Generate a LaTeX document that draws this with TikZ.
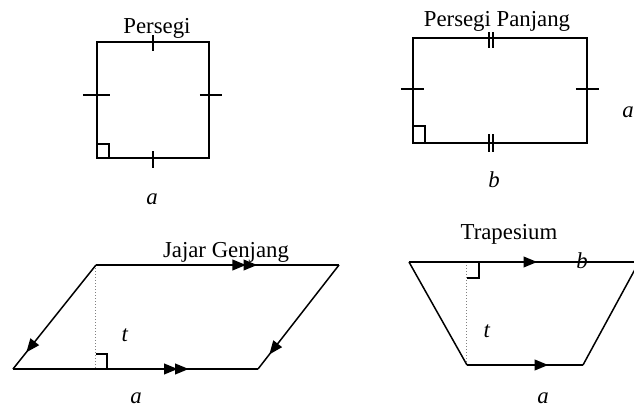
\documentclass[tikz,border=0pt]{standalone}
\usepackage{fontspec}
\setmainfont{Liberation Serif}
\usetikzlibrary{calc,arrows.meta,decorations.markings}
\tikzset{
  edge/.style={line width=0.75pt},
  tickmark/.style={line width=0.75pt},
  rightangle/.style={line width=0.75pt},
  heightline/.style={densely dotted, line width=0.5pt, gray},
  lbl/.style={inner sep=0pt, anchor=base, font=\fontsize{11.4pt}{13pt}\selectfont},
  tri/.tip={Triangle[length=6.8pt,width=5.4pt]},
  mid1/.style={postaction={decorate},decoration={markings,mark=at position #1 with {\arrow{tri}}}},
  mid2/.style 2 args={postaction={decorate},decoration={markings,
     mark=at position #1 with {\arrow{tri}},mark=at position #2 with {\arrow{tri}}}}
}
\begin{document}
\begin{tikzpicture}[x=0.5pt,y=-0.5pt]
\path[use as bounding box, clip] (0,0) rectangle (634,413);

% ---------- Persegi ----------
\coordinate (sTL) at (97,42);
\coordinate (sTR) at (209,42);
\coordinate (sBR) at (209,158);
\coordinate (sBL) at (97,158);
\draw[edge] (sTL) -- (sTR) -- (sBR) -- (sBL) -- cycle;
\draw[tickmark] ($(sTL)!0.5!(sTR)$) ++(0,-7) -- ++(0,16);
\draw[tickmark] ($(sBL)!0.5!(sBR)$) ++(0,-7) -- ++(0,17);
\draw[tickmark] ($(sTL)!0.5!(sBL)$) ++(-14,-5) -- ++(27,0);
\draw[tickmark] ($(sTR)!0.5!(sBR)$) ++(-9,-5) -- ++(22,0);
\draw[rightangle] (sBL) ++(0,-14) -- ++(12,0) -- ++(0,14);
\node[lbl] (tSq) at (157,33) {Persegi};
\node[lbl] (aSq) at (152,204) {\textit{a}};

% ---------- Persegi Panjang ----------
\coordinate (rTL) at (413,38);
\coordinate (rTR) at (587,38);
\coordinate (rBR) at (587,143);
\coordinate (rBL) at (413,143);
\draw[edge] (rTL) -- (rTR) -- (rBR) -- (rBL) -- cycle;
\draw[tickmark] ($(rTL)!0.5!(rBL)$) ++(-12,-1.5) -- ++(23,0);
\draw[tickmark] ($(rTR)!0.5!(rBR)$) ++(-11,-1.5) -- ++(23,0);
\draw[tickmark] (489,32) -- (489,48) (493,32) -- (493,48);
\draw[tickmark] (489,134) -- (489,152) (493,134) -- (493,152);
\draw[rightangle] (rBL) ++(0,-17) -- ++(12,0) -- ++(0,17);
\node[lbl] (tRe) at (497,26) {Persegi Panjang};
\node[lbl] (aRe) at (628,117) {\textit{a}};
\node[lbl] (bRe) at (494,187) {\textit{b}};

% ---------- Jajar Genjang ----------
\coordinate (pTL) at (96,265);
\coordinate (pTR) at (339,265);
\coordinate (pBR) at (258,369);
\coordinate (pBL) at (13,369);
\coordinate (pF) at (96,369);
\draw[heightline] (pTL) -- (pF);
\draw[edge, mid2={0.617}{0.663}] (pTL) -- (pTR);
\draw[edge, mid2={0.672}{0.717}] (pBL) -- (pBR);
\draw[edge, mid1={0.84}] (pTL) -- (pBL);
\draw[edge, mid1={0.86}] (pTR) -- (pBR);
\draw[rightangle] (pF) ++(0,-15) -- ++(11,0) -- ++(0,15);
\node[lbl] (tPa) at (226,257) {Jajar Genjang};
\node[lbl] (hPa) at (125,341) {\textit{t}};
\node[lbl] (aPa) at (136,403) {\textit{a}};

% ---------- Trapesium ----------
\coordinate (zTL) at (409,262);
\coordinate (zTR) at (639,262);
\coordinate (zBR) at (583,365);
\coordinate (zBL) at (467,365);
\coordinate (zF) at (467,262);
\draw[heightline] (zF) -- (zBL);
\draw[edge, mid1={0.557}] (zTL) -- (zTR);
\draw[edge, mid1={0.70}] (zBL) -- (zBR);
\draw[edge] (zTL) -- (zBL);
\draw[edge] (zTR) -- (zBR);
\draw[rightangle] (zF) ++(0,16) -- ++(12,0) -- ++(0,-16);
\node[lbl] (tTr) at (509,239) {Trapesium};
\node[lbl] (bTr) at (582,268) {\textit{b}};
\node[lbl] (hTr) at (487,337) {\textit{t}};
\node[lbl] (aTr) at (543,403) {\textit{a}};
\end{tikzpicture}
\end{document}
